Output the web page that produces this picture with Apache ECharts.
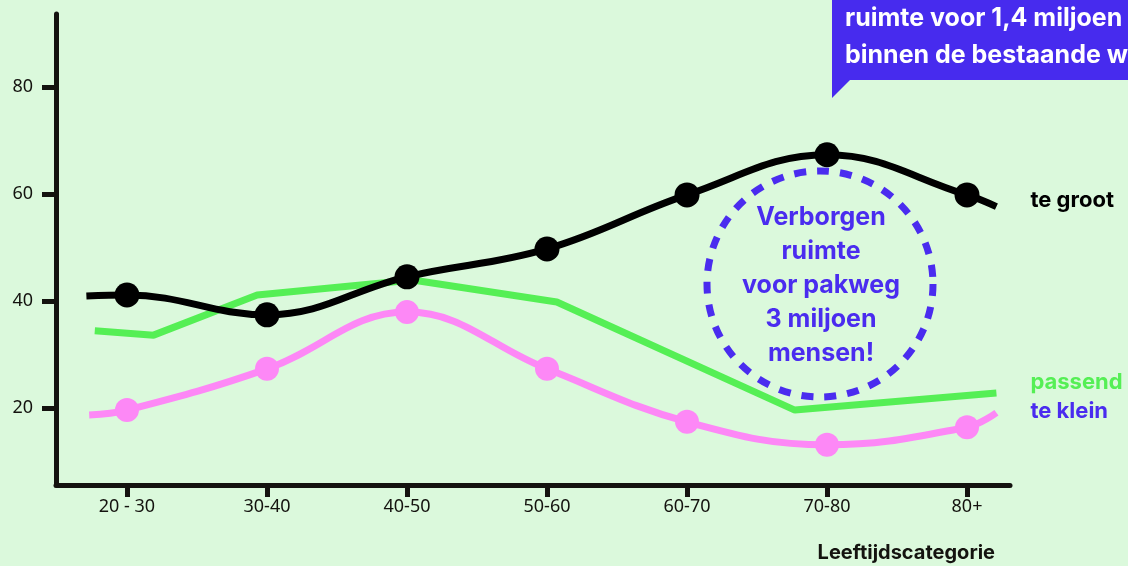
<!DOCTYPE html>
<html>
<head>
<meta charset="utf-8">
<script src="https://cdn.jsdelivr.net/npm/echarts@6/dist/echarts.min.js"></script>
<style>
html,body{margin:0;padding:0;background:#dbf9dc;}
#chart{width:1128px;height:566px;}
</style>
</head>
<body>
<div id="chart"></div>
<script>
// ---- data ----
const categories = ['20 - 30', '30-40', '40-50', '50-60', '60-70', '70-80', '80+'];
const yTicks = [20, 40, 60, 80];
// [category position, share %]
const teGroot = [[-0.29, 40.9], [0, 41.1], [1, 37.4], [2, 44.5], [3, 49.7], [4, 59.8], [5, 67.3], [6, 59.8], [6.21, 57.6]];
const teGrootMarked = [false, true, true, true, true, true, true, true, false];
const passend = [[-0.23, 34.4], [0.19, 33.6], [0.93, 41.1], [2.04, 43.9], [3.07, 39.8], [4.77, 19.6], [6.21, 22.8]];
const teKlein = [[-0.27, 18.7], [0, 19.6], [1, 27.3], [2, 37.9], [3, 27.3], [4, 17.4], [5, 13.1], [6, 16.4], [6.21, 19.1]];
const teKleinMarked = [false, true, true, true, true, true, true, true, false];
const calloutLines = ['ruimte voor 1,4 miljoen mensen', 'binnen de bestaande woningen'];
const circleText = ['Verborgen', 'ruimte', 'voor pakweg', '3 miljoen', 'mensen!'];
const axisName = 'Leeftijdscategorie';

const PURPLE = '#4a2cef';
const GREEN = '#55ef55';
const PINK = '#fd88f6';
const INK = '#14130f';

function withMarkers(pts, marked, size) {
  return pts.map((p, i) => ({ value: p, symbolSize: marked[i] ? size : 0 }));
}

const chart = echarts.init(document.getElementById('chart'), null, { renderer: 'canvas' });
chart.setOption({
  backgroundColor: '#dbf9dc',
  animation: false,
  grid: { left: 56, right: 118, top: 14, bottom: 81 },
  xAxis: {
    type: 'value', min: -0.507, max: 6.307,
    splitLine: { show: false },
    axisLine: { show: true, onZero: false, lineStyle: { color: INK, width: 5 } },
    axisTick: { show: true, customValues: categories.map((c, i) => i), length: 12, lineStyle: { color: INK, width: 5 } },
    axisLabel: {
      customValues: categories.map((c, i) => i),
      formatter: v => categories[Math.round(v)],
      color: INK, fontSize: 18, fontFamily: 'Noto Sans', margin: 13
    }
  },
  yAxis: {
    type: 'value', min: 5.6, max: 93.6,
    splitLine: { show: false },
    axisLine: { show: true, onZero: false, lineStyle: { color: INK, width: 5 } },
    axisTick: { show: true, customValues: yTicks, length: 14, lineStyle: { color: INK, width: 5 } },
    axisLabel: { customValues: yTicks, color: INK, fontSize: 18, fontFamily: 'Noto Sans', margin: 23 }
  },
  series: [
    {
      name: 'passend', type: 'line', data: passend, showSymbol: false, symbol: 'none',
      lineStyle: { color: GREEN, width: 7 }, itemStyle: { color: GREEN }, z: 2,
      endLabel: { show: true, formatter: 'passend', color: GREEN, fontSize: 22, fontWeight: 'bold', fontFamily: 'Inter', distance: 34, offset: [0, -11] }
    },
    {
      name: 'te klein', type: 'line', data: withMarkers(teKlein, teKleinMarked, 24), symbol: 'circle', smooth: 0.4,
      lineStyle: { color: PINK, width: 7 }, itemStyle: { color: PINK }, z: 3,
      endLabel: { show: true, formatter: 'te klein', color: PURPLE, fontSize: 22, fontWeight: 'bold', fontFamily: 'Inter', distance: 34, offset: [0, -1] }
    },
    {
      name: 'te groot', type: 'line', data: withMarkers(teGroot, teGrootMarked, 25), symbol: 'circle', smooth: 0.4,
      lineStyle: { color: '#000', width: 7 }, itemStyle: { color: '#000' }, z: 4,
      endLabel: { show: true, formatter: 'te groot', color: '#000', fontSize: 22, fontWeight: 'bold', fontFamily: 'Inter', distance: 34, offset: [0, -6] }
    }
  ],
  graphic: [
    {
      type: 'circle', shape: { cx: 820, cy: 284, r: 113 }, z: 1,
      style: { fill: 'none', stroke: PURPLE, lineWidth: 7, lineDash: [12, 11] }
    },
    {
      type: 'text', x: 821, y: 285, z: 5,
      style: {
        text: circleText.join('\n'), fill: PURPLE, font: 'bold 25px Inter', align: 'center', verticalAlign: 'middle', lineHeight: 34
      }
    },
    {
      type: 'polygon', z: 5,
      shape: { points: [[832, 0], [1128, 0], [1128, 80], [850, 80], [832, 98]] },
      style: { fill: '#472bee' }
    },
    {
      type: 'text', x: 845, y: 0, z: 6,
      style: { text: calloutLines.join('\n'), fill: '#ffffff', font: 'bold 25px Inter', verticalAlign: 'top', lineHeight: 37 }
    },
    {
      type: 'text', x: 995, y: 553, z: 5,
      style: { text: axisName, fill: INK, font: 'bold 20px Inter', align: 'right', verticalAlign: 'middle' }
    }
  ]
});
</script>
</body>
</html>
